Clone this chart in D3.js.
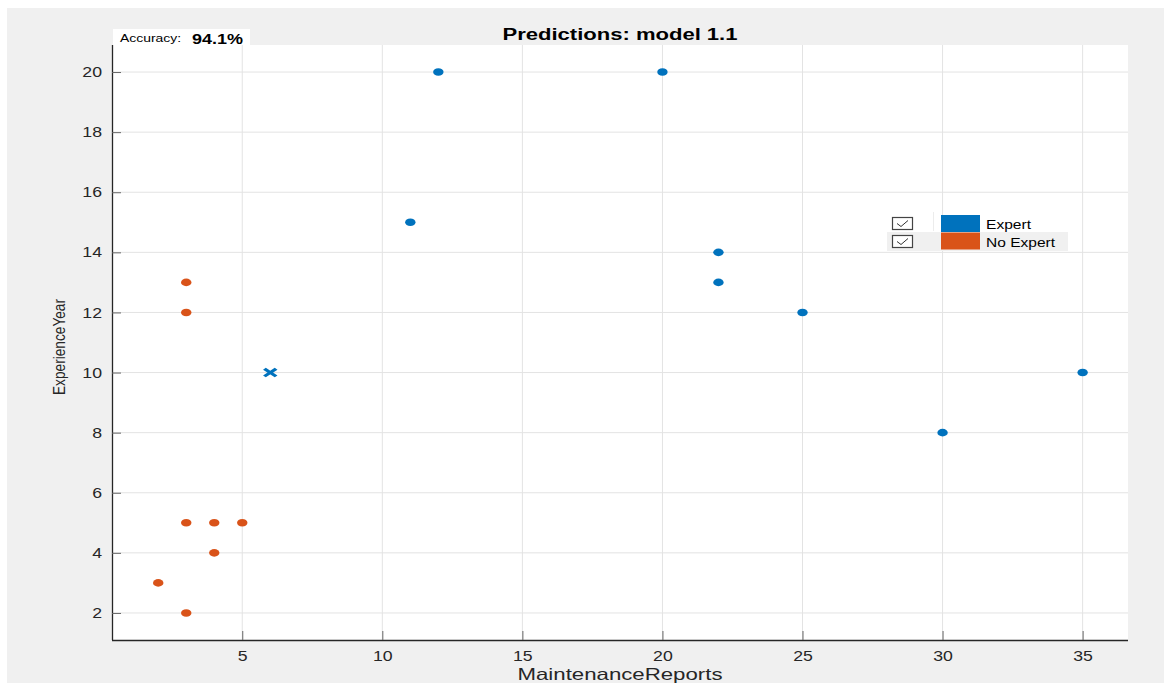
<!DOCTYPE html>
<html><head><meta charset="utf-8">
<script src="https://cdn.jsdelivr.net/npm/d3@7"></script>
<style>
html,body{margin:0;padding:0;background:#fff;}
svg{display:block;font-family:"Liberation Sans",Arial,Helvetica,sans-serif;}
</style></head>
<body><svg id="c" width="1164" height="683"></svg>
<script>
const title = "Predictions: model 1.1";
const xLabel = "MaintenanceReports";
const yLabel = "ExperienceYear";
const accuracyLabel = "Accuracy:";
const accuracyValue = "94.1%";
const seriesNames = ["Expert", "No Expert"];
const seriesColors = ["#0072BD", "#D95319"];
const expertX = [12, 20, 11, 22, 22, 25, 35, 30];
const expertY = [20, 20, 15, 14, 13, 12, 10, 8];
const noExpertX = [3, 3, 3, 4, 5, 4, 2, 3];
const noExpertY = [13, 12, 5, 5, 5, 4, 3, 2];
const wrongX = [6];
const wrongY = [10];
const wrongClass = [0];
const xTicks = [5, 10, 15, 20, 25, 30, 35];
const yTicks = [2, 4, 6, 8, 10, 12, 14, 16, 18, 20];

const stretch = 1.22;
function widen(sel) {
  sel.each(function () {
    const w = this.getComputedTextLength();
    d3.select(this).attr("textLength", w * stretch).attr("lengthAdjust", "spacingAndGlyphs");
  });
}

const svg = d3.select("#c");
const L = 112, R = 1128, T = 45, B = 640;
const x = d3.scaleLinear().domain([0.35, 36.62]).range([L, R]);
const y = d3.scaleLinear().domain([1.1, 20.9]).range([B, T]);

svg.append("rect").attr("x", 7).attr("y", 8).attr("width", 1157).attr("height", 675).attr("fill", "#f0f0f0");
svg.append("rect").attr("x", L).attr("y", T).attr("width", R - L).attr("height", B - T).attr("fill", "#fff");

// grid
const g = svg.append("g");
g.selectAll(".gx").data(xTicks).join("line")
  .attr("x1", d => x(d)).attr("x2", d => x(d)).attr("y1", T).attr("y2", B)
  .attr("stroke", "#e3e3e3").attr("stroke-width", 1);
g.selectAll(".gy").data(yTicks).join("line")
  .attr("x1", L).attr("x2", R).attr("y1", d => y(d)).attr("y2", d => y(d))
  .attr("stroke", "#e3e3e3").attr("stroke-width", 1);

// axes
const xAxis = d3.axisBottom(x).tickValues(xTicks).tickSizeInner(-9).tickSizeOuter(0).tickPadding(11);
const yAxis = d3.axisLeft(y).tickValues(yTicks).tickSizeInner(-9).tickSizeOuter(0).tickPadding(10);
const gx = svg.append("g").attr("transform", `translate(0,${B})`).call(xAxis);
const gy = svg.append("g").attr("transform", `translate(${L},0)`).call(yAxis);
[gx, gy].forEach(a => {
  a.select(".domain").attr("stroke", "#262626").attr("stroke-width", 1.3);
  a.selectAll(".tick line").attr("stroke", "#666");
  a.selectAll(".tick text").attr("fill", "#262626").style("font-size", "14.5px").call(widen);
});
gx.select(".domain").attr("d", `M${L},0.5H${R}`);
gy.select(".domain").attr("d", `M0.5,${B}V${T}`);

// points
const pts = svg.append("g");
const sets = [[expertX, expertY], [noExpertX, noExpertY]];
sets.forEach((s, i) => {
  pts.selectAll(".p" + i).data(s[0].map((v, k) => [v, s[1][k]])).join("ellipse")
    .attr("cx", d => x(d[0])).attr("cy", d => y(d[1]))
    .attr("rx", 5.2).attr("ry", 3.8).attr("fill", seriesColors[i]);
});
pts.selectAll(".w").data(wrongX.map((v, k) => [v, wrongY[k], wrongClass[k]])).join("path")
  .attr("transform", d => `translate(${x(d[0])},${y(d[1])}) scale(1.3,0.85)`)
  .attr("d", "M-4.5,-4.5L4.5,4.5M-4.5,4.5L4.5,-4.5")
  .attr("stroke", d => seriesColors[d[2]]).attr("stroke-width", 3).attr("fill", "none");

// title
svg.append("text").attr("x", 620).attr("y", 40).attr("text-anchor", "middle")
  .attr("textLength", 235).attr("lengthAdjust", "spacingAndGlyphs")
  .style("font-size", "16px").style("font-weight", "bold").attr("fill", "#000").text(title);

// labels
svg.append("text").attr("x", 620).attr("y", 680).attr("text-anchor", "middle")
  .attr("textLength", 205).attr("lengthAdjust", "spacingAndGlyphs")
  .style("font-size", "16.5px").attr("fill", "#262626").text(xLabel);
svg.append("text").attr("transform", "translate(65,347) rotate(-90)").attr("text-anchor", "middle")
  .attr("textLength", 96).attr("lengthAdjust", "spacingAndGlyphs")
  .style("font-size", "17px").attr("fill", "#262626").text(yLabel);

// accuracy box
svg.append("rect").attr("x", 113).attr("y", 29).attr("width", 137).attr("height", 16).attr("fill", "#fff");
svg.append("text").attr("x", 120).attr("y", 41.5).style("font-size", "11px")
  .attr("textLength", 61).attr("lengthAdjust", "spacingAndGlyphs").attr("fill", "#000").text(accuracyLabel);
svg.append("text").attr("x", 192).attr("y", 43.5).style("font-size", "14.5px").style("font-weight", "bold")
  .attr("textLength", 51).attr("lengthAdjust", "spacingAndGlyphs").attr("fill", "#000").text(accuracyValue);

// legend
const lg = svg.append("g");
const legendLens = [45, 69];
lg.append("rect").attr("x", 887).attr("y", 232).attr("width", 181).attr("height", 19).attr("fill", "#f0f0f0");
lg.append("line").attr("x1", 933.5).attr("x2", 933.5).attr("y1", 212).attr("y2", 231).attr("stroke", "#ececec");
seriesNames.forEach((n, i) => {
  const cy = 223.5 + i * 18;
  lg.append("rect").attr("x", 892.5).attr("y", cy - 6).attr("width", 20).attr("height", 12)
    .attr("fill", "#fff").attr("stroke", "#444").attr("stroke-width", 1.2);
  lg.append("path").attr("d", `M897,${cy}L901,${cy + 3}L908,${cy - 3}`)
    .attr("stroke", "#333").attr("stroke-width", 1).attr("fill", "none");
  lg.append("rect").attr("x", 941).attr("y", 215 + i * 17.5).attr("width", 39).attr("height", 17)
    .attr("fill", seriesColors[i]);
  lg.append("text").attr("x", 986).attr("y", cy + 5).style("font-size", "13.5px")
    .attr("textLength", legendLens[i]).attr("lengthAdjust", "spacingAndGlyphs").attr("fill", "#000").text(n);
});
</script></body></html>
